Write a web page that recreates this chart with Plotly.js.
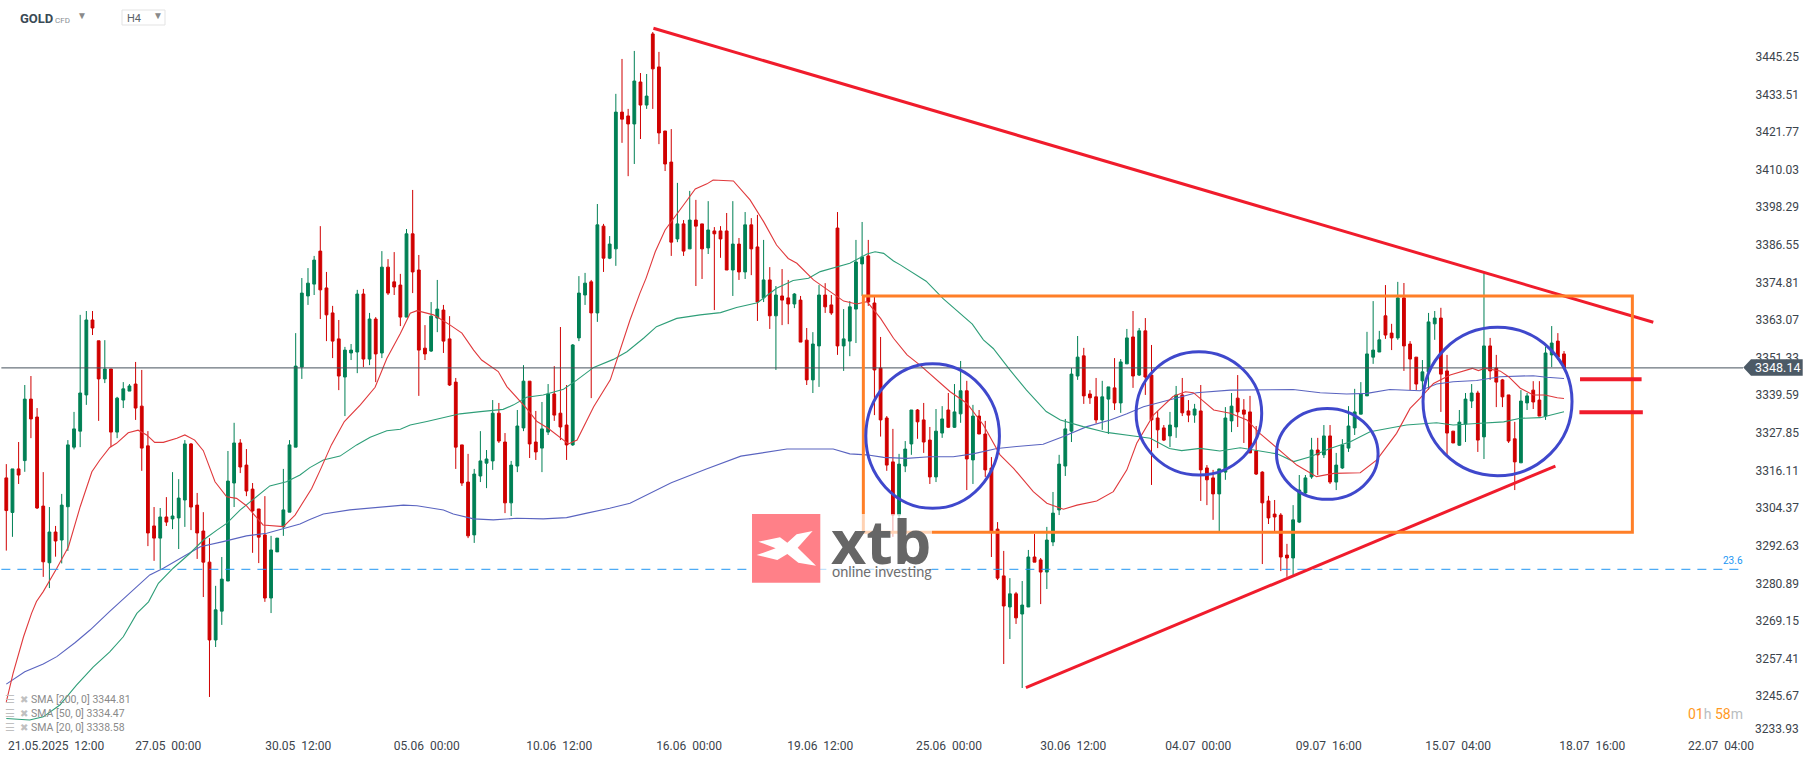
<!DOCTYPE html>
<html>
<head>
<meta charset="utf-8">
<script src="https://cdn.plot.ly/plotly-3.0.1.min.js"></script>
<style>html,body{margin:0;padding:0;background:#fff}#chart{width:1815px;height:759px}</style>
</head>
<body>
<div id="chart"></div>
<script>
const open = [
3313.8,3303.0,3316.6,3319.2,3338.4,3332.8,3305,3287.3,3296.9,3294.4,
3304.8,3323.4,3328.4,3339.7,3363.1,3356.6,3344.7,3347.8,3328.1,3338.1,
3340.9,3343.1,3336.2,3323.8,3298.8,3295,3301.6,3301,3301.3,3306.9,
3324.4,3305.3,3297.2,3287.5,3263.2,3272.2,3281.6,3312.2,3324.7,3317.8,
3310.3,3304.1,3296,3276.3,3290.7,3298.5,3303.1,3323.4,3348.4,3370.6,
3374.3,3384.6,3373.1,3365.3,3357.2,3345.3,3352.8,3353.1,3371.2,3350.9,
3363.4,3352.8,3379.6,3375,3374,3364,3390,3378.7,3354.3,3353.4,
3363.7,3366.2,3357.2,3343.7,3324.1,3312.5,3296,3314.4,3318.4,3319.1,
3334,3325,3306,3317.5,3329.4,3344,3325,3323.1,3328.1,3340,
3334,3330.3,3324.1,3357.5,3370.9,3375,3365.3,3392.4,3382.4,3385.3,
3428,3426.8,3424.3,3437.4,3430.2,3452.4,3442.1,3422.1,3412.4,3388.4,
3393.1,3385.3,3394.3,3393.1,3385.6,3390.9,3390.9,3390.9,3378.7,3386.8,
3378.1,3392.8,3385.9,3370,3375.6,3364.4,3370.6,3370,3368.1,3369.3,
3356.8,3344.4,3355,3370.9,3367.8,3391.8,3355,3356.5,3366.5,3380.6,
3383.1,3368.4,3348.1,3332.5,3318.8,3302.2,3317.5,3324.4,3335,3331.9,
3325.6,3314.1,3327.8,3335,3329.6,3333.8,3341,3319.4,3333.1,3327.5,
3316.9,3297.8,3283.2,3273.5,3277.6,3271.3,3273.5,3289.1,3288.2,3284.4,
3293.8,3303.8,3317.5,3328.4,3345.6,3351.9,3340,3339.1,3331.9,3338.4,
3341.9,3337.2,3349.4,3357.8,3345.9,3359.7,3345.9,3332.5,3329.4,3326.9,
3329.7,3339.7,3334.7,3333.4,3334.7,3316.9,3313.8,3308.8,3315.6,3331.6,
3338.7,3335,3334.4,3322.2,3315.6,3306.6,3302.5,3302.2,3289.7,3288.8,
3300,3309.1,3314.1,3322.5,3321,3326.9,3312.5,3316.9,3323.1,3329.4,
3333.7,3339.4,3351.5,3353.1,3364.4,3359,3357.5,3370,3355.6,3351.5,
3344.1,3346.9,3361.9,3363.7,3347.2,3328.4,3324,3330.6,3337.8,3340.3,
3326.6,3355,3348.1,3344.4,3339.7,3326,3318.5,3337.2,3341.2,3338.1,
3333.1,3352.2,3356.5,3352.5];
const high = [
3318.1,3316.6,3325,3342.8,3345.6,3335.6,3315.6,3304.7,3298.8,3308.8,
3325.6,3334.4,3364.7,3365.9,3365.9,3356.6,3356.8,3347.8,3339.1,3343.7,
3343.1,3350,3347.5,3328.4,3304.7,3304.4,3307.8,3315.6,3313.4,3325.6,
3324.7,3309.1,3303.1,3295,3280.1,3289.1,3322.2,3331,3325.9,3322.8,
3312.2,3304.1,3308.1,3295.7,3295,3316.6,3325.6,3359,3376.2,3379.3,
3383.1,3392.4,3378.1,3367.5,3363.1,3354.7,3355.6,3372.5,3372.8,3365.3,
3364,3384.6,3382.1,3384.3,3377.5,3391.5,3403.7,3383.4,3361.5,3368.7,
3375.6,3367.8,3364.3,3345,3324.1,3321.3,3316.6,3328.4,3322.5,3338.1,
3337.2,3327.8,3319.1,3335,3349,3344,3334.7,3337.5,3343.1,3348.7,
3360.9,3342.8,3355.6,3376.8,3377.8,3375.6,3399.3,3393.1,3389.3,3433.7,
3444.6,3429,3447.1,3440.2,3439.9,3453,3446.8,3422.1,3422.7,3405.9,
3394.3,3403.4,3400.6,3393.1,3400.2,3392.1,3392.4,3396.5,3400.2,3388.7,
3396.8,3394.9,3395.9,3388.1,3379.6,3373.7,3379,3375.6,3371.5,3370.6,
3360.6,3359.3,3374,3374.6,3370.9,3396.8,3366.5,3369,3388.1,3393.7,
3388.1,3370.6,3357.8,3333.1,3329.1,3321.3,3325.3,3335,3335.3,3337.2,
3329.7,3335.3,3336.2,3340.3,3343.1,3350.3,3344.1,3336.6,3335,3331.6,
3320.3,3300,3291,3282.5,3278.2,3281.6,3291.3,3296.3,3288.8,3298.5,
3309.4,3321,3332.2,3348.1,3358.1,3354.4,3341.2,3345,3344.1,3342.2,
3351.2,3350.9,3360.3,3365.9,3360.6,3363.7,3355.3,3334.7,3330.3,3334.4,
3342.5,3345,3338.1,3336.9,3342.8,3317.8,3316.3,3316.6,3335.9,3340.3,
3345.9,3338.4,3339.4,3330,3315.9,3308.2,3306.9,3302.8,3293.2,3305.3,
3314.7,3314.7,3326.3,3326.3,3330.3,3330.3,3321.6,3325.9,3336.2,3341.6,
3343.7,3359.4,3369,3359.7,3374,3361.9,3375,3374.65,3356.5,3351.5,
3350.6,3365.3,3365.9,3366.9,3352.2,3328.4,3335,3340.3,3343.1,3341,
3377.7,3357.5,3352.2,3344.7,3339.7,3331.3,3341.2,3340.3,3344,3344,
3354.8,3361.2,3359,3353.4];
const low = [
3291.1,3295.4,3311.9,3315.7,3326.2,3304.1,3282.9,3279.4,3289.2,3287.1,
3291,3322.7,3323.4,3336.6,3358.4,3331.6,3343.4,3323.4,3326.2,3335.6,
3340.9,3331.9,3316,3292.5,3287.9,3285.4,3298.8,3297.8,3291.6,3298.5,
3297.5,3288.5,3276.6,3245.4,3261,3267.9,3281.6,3304.7,3315.3,3308.1,
3290.4,3287.2,3275.1,3271.6,3290.7,3295.7,3303.1,3323.4,3344.7,3367.8,
3370.9,3363.4,3356.5,3351.2,3341.2,3333.1,3350.6,3346.5,3348.4,3349,
3343.7,3351.2,3370.9,3370.9,3361.2,3364,3371.5,3339.4,3350.6,3353.1,
3359.3,3352.8,3342.5,3316.6,3311.3,3295,3293.5,3312.5,3310.6,3316.3,
3324.7,3302.8,3301.9,3315.6,3328.4,3320,3319.4,3315.6,3327.2,3331.6,
3325.6,3319.4,3323.8,3356.5,3367.8,3338.7,3362.5,3378.1,3382.1,3380,
3418.4,3408,3411.8,3419.6,3429,3429,3418,3409.6,3383.1,3387.4,
3383.1,3385.3,3373.7,3375.9,3383.7,3366.2,3382.5,3378.7,3370.6,3375.6,
3375.9,3377.1,3362.8,3368.7,3360.3,3347.5,3361.5,3361.8,3366.8,3356.2,
3342.8,3340.3,3342.2,3365.3,3364.7,3352.2,3347.2,3351.8,3355.9,3370.6,
3367.5,3333.4,3326.7,3316,3295.4,3298.8,3315.6,3321,3326,3321.6,
3311.9,3312.5,3326.3,3329.4,3329.4,3331,3310,3311.9,3327.5,3314.1,
3289.1,3281.9,3255.7,3263.5,3268.2,3248.2,3273.5,3287.5,3274.4,3279.1,
3292.5,3302.2,3314.4,3325,3344.4,3336.9,3336.9,3330.8,3328.8,3327.5,
3335,3334.1,3349.4,3341.9,3345.6,3339.7,3311.6,3323.1,3325.3,3323.4,
3326.3,3333.1,3331.2,3331,3306.6,3305.3,3300.7,3297.2,3313.2,3328.1,
3329.7,3324.7,3321.6,3314.7,3286.9,3299.4,3297.2,3284.7,3282.9,3283.5,
3299.7,3308.5,3313.5,3314.7,3320,3311.9,3310,3316.6,3321.9,3327.2,
3333.7,3339.4,3349.4,3353.1,3357.2,3353.7,3356.9,3347.2,3341.2,3341.2,
3341.2,3341.3,3356.9,3334.4,3321,3324.7,3323.8,3325,3335.6,3321.9,
3319.7,3344.4,3335.9,3335.9,3324.7,3310,3318.5,3335,3335.3,3333.1,
3331.9,3348.4,3350.6,3348.14];
const close = [
3303.6,3316.6,3314.7,3338.4,3332.2,3304.4,3287.6,3296.9,3294.1,3305.3,
3324.1,3329.1,3340.3,3363.1,3360.6,3344.7,3347.8,3328.1,3338.7,3341.6,
3342.5,3335.6,3323.1,3296.6,3295,3301.6,3300,3301.9,3307.5,3324.4,
3304.7,3296.6,3287.5,3263.2,3272.6,3282.2,3312.8,3324.7,3317.2,3309.7,
3303.5,3295.3,3276.3,3291.3,3295,3303.8,3324.1,3348.7,3371.5,3374.6,
3381.8,3372.5,3364.7,3356.5,3345.6,3353.7,3353.7,3371.2,3350.9,3363.4,
3352.5,3379.6,3371.5,3373.4,3364,3390,3378.1,3353.7,3352.5,3364.3,
3366.5,3356.5,3342.8,3323.4,3312.2,3295.7,3315,3319.1,3319.7,3334,
3325.3,3306,3317.8,3330,3344,3324.4,3321.9,3329.1,3340,3333.4,
3329.7,3324.1,3355.3,3371.5,3374.6,3365.3,3392.8,3382.4,3386.8,3428,
3425.8,3424.3,3437.7,3430.2,3433,3441.5,3421.5,3411.8,3387.4,3393.1,
3384.6,3394.3,3392.4,3385.3,3391.2,3390,3388.4,3378.7,3386.8,3378.1,
3392.8,3385.3,3368.7,3375.6,3364.4,3370.9,3369.3,3368.1,3371.2,3356.2,
3344.4,3355.6,3370.9,3367.2,3365.3,3355,3357.2,3367.2,3381.2,3382.8,
3368.7,3347.5,3331.9,3317.8,3302.2,3318.1,3322.8,3335,3331.3,3325,
3314.1,3328.4,3332.2,3329.6,3334.4,3341,3319.7,3333.1,3327.5,3316.3,
3297.2,3282.5,3273.8,3277.6,3270.1,3274.1,3289.1,3287.5,3284.4,3294.4,
3302.8,3318.1,3329.1,3346.2,3351.5,3339.4,3338.8,3331.9,3339.1,3342.2,
3337.2,3350,3357.5,3345.6,3359.7,3345.3,3331.9,3328.8,3325.6,3330.3,
3339.7,3334.1,3333.4,3335.3,3316.3,3313.2,3308.8,3316.6,3332.5,3336.2,
3334.4,3333.7,3321.6,3315,3306,3301.3,3301.6,3289.1,3288.8,3300.7,
3310,3313.8,3322.5,3321,3326.9,3312.5,3317.8,3324.1,3330,3334.4,
3340,3352.5,3353.7,3356.9,3358.4,3357.5,3370,3355,3350.9,3343.1,
3346.9,3362.5,3363.7,3346.2,3327.8,3324.7,3331.2,3338.4,3340.3,3325.6,
3355,3347.2,3343.7,3339.1,3325.3,3318.8,3337.8,3339.4,3337.5,3333.1,
3352.8,3355.9,3351.5,3348.14];
const candleIndex = open.map((_, i) => i);

const sma20At = [0,1.1,2.8,4.1,4.9,6,8.2,10.1,12,13.9,15.2,16.8,17.9,19.8,21.4,22.8,24.1,25.5,27.7,29,30.6,32,33.9,35.8,37.4,39,41.7,45,46.9,48.2,49.6,51,52.8,54.9,57.5,59.9,61.8,64,65.6,66.7,69.4,72.1,74,75.9,77.2,79.9,81.3,84.5,86.2,88,90,91.3,92.7,95.4,98.1,99.7,101.3,102.9,103.9,105.4,107,110,111.9,113.8,114.8,118.1,120.8,123,125.1,127,128.4,131.1,134.3,136,138.1,139.8,142,144.1,146.3,148.4,153.3,156,158.7,161.4,163.6,166.8,169,171.7,173.9,177.1,179.8,182,183.6,185.2,186.3,189.5,191.5,192.8,196.1,198.8,201.5,203.6,206.4,209.6,212.8,215.6,219.9,222.6,225.8,228,229.6,231.8,234.5,238.1,239.1,240.2,242.6,244,245.9,248,249.9,251.9,253];
const sma20 = [3243.9,3252.8,3264.2,3271.5,3275.2,3278.3,3285.6,3292.3,3304.8,3315.7,3319.4,3323.3,3324.6,3327.9,3328.7,3327.2,3324.9,3324.9,3326.2,3327.2,3325.6,3322.3,3312.6,3307.9,3307.4,3305.1,3299.1,3298.6,3302.2,3306.4,3310.5,3316.3,3324.1,3331.4,3336.6,3342.1,3351.1,3358.9,3365.2,3366,3364.7,3361.5,3359,3353.7,3350.6,3347,3342.3,3335.5,3331.4,3329.3,3326.2,3324.4,3325.6,3336,3344.4,3353.7,3363.1,3371.4,3376.1,3384.4,3391.2,3399,3404,3405.6,3406.8,3406.5,3400.6,3393.8,3386.5,3382.3,3380.8,3375.6,3371.4,3369,3368.1,3368.8,3363.6,3357.4,3352.2,3349,3340.7,3337.1,3330.3,3321,3316.8,3309.5,3305.9,3304,3305.3,3306.6,3309.5,3316.3,3324.6,3329.8,3333.4,3339.2,3340.7,3340.4,3335,3334,3331.9,3327.7,3323,3317.8,3314.2,3315.2,3315.4,3319.4,3327.7,3335.5,3338.6,3343.3,3345.9,3348,3347.3,3348,3347.2,3345.4,3341.8,3339.7,3339.7,3338.8,3338.58];

const sma50At = [0,3.8,6,8.7,11.4,14.1,16.8,19,21.2,23.1,24.7,27.1,29.8,32,34.2,35.8,38,40.7,42.8,45.5,47.7,49.3,51.5,54.2,56.9,59.1,61.8,64,65.6,68.3,71,73.7,77,80.7,82.4,84.5,87.2,90.5,92.7,95.4,98.6,100.8,103.5,105.6,108.9,112.7,116,118.6,122,125.1,127.8,130.3,132.2,137,139.8,141.1,142.5,144.1,145.2,149.4,152.2,156.9,158.7,160.3,163,165.7,168.9,171.2,174.9,178.7,183.1,185.8,188.9,190.9,193.9,197.1,200.4,202.6,206.4,209.1,211.8,215,218.3,221.5,224.8,227.4,232.3,235,238.8,243.2,245.9,249.1,253];
const sma50 = [3238.7,3238.2,3239.2,3242.9,3249.1,3254.7,3259.5,3264.2,3271.5,3275.1,3280.9,3285.6,3290.2,3294.4,3297.5,3299.6,3303.8,3308,3311.3,3312.6,3314.7,3317,3319.4,3320.6,3324.1,3326.5,3328.5,3329,3330.3,3331.4,3332.6,3333.8,3334.5,3335.2,3336.6,3339,3339.7,3341.5,3344.4,3348.3,3350.8,3353.2,3357.4,3361,3363.6,3364.7,3365.4,3367,3368.5,3373,3375.4,3376.1,3378.2,3380.8,3383.7,3384.4,3383.9,3381.5,3380.3,3375.2,3369.7,3361.8,3356.9,3354.2,3347.5,3341.2,3334.5,3331.9,3329.8,3328,3326.9,3326.2,3323,3322.3,3323,3322.2,3323.2,3322.5,3321.3,3318.9,3320.4,3323,3325.1,3328.2,3329.3,3330.3,3331,3330.3,3330.8,3331.3,3332.4,3332.6,3334.47];

const sma200At = [0,3,6,8.2,11.2,13.6,16.8,20.6,23.3,25.5,28.2,31.5,35.2,39,42.3,45.5,47.7,49.3,51.5,55.8,60.7,64.5,66.7,71,72.6,75.9,79.1,82.9,87.2,91,94.3,98,101.3,108,113.7,119.3,126.8,134.3,137,139.7,142.5,146.2,150,153.8,157,160.9,164.1,168.4,171.7,175.5,179.3,182,184.7,189,193.3,198.8,204.2,209,213.4,217.7,221,224.7,229.6,232.3,235,238.8,242.6,248,250.2,253];
const sma200 = [3249.4,3253.3,3255.7,3258,3262.4,3266.3,3272.1,3278.8,3283.5,3285.6,3288.7,3292.3,3293.9,3295.7,3296.5,3298.1,3299.4,3300.8,3302.5,3303.8,3304.6,3305.3,3305.1,3303.8,3302.5,3301,3300.7,3301.2,3301,3301.4,3302.8,3304.3,3305.9,3312.3,3316.6,3320.6,3322.8,3322.8,3321.3,3321,3320.2,3319.9,3320.4,3320.4,3321.3,3323,3323.6,3324.3,3326.7,3329.8,3331.9,3333.8,3336,3338.1,3340.4,3341.2,3341.4,3341.4,3340.4,3340,3340.2,3341.4,3341,3343.1,3343.8,3344.2,3345.4,3345.7,3345.2,3344.81];

const priceTicks = [3445.25,3433.51,3421.77,3410.03,3398.29,3386.55,3374.81,3363.07,3351.33,3339.59,3327.85,3316.11,3304.37,3292.63,3280.89,3269.15,3257.41,3245.67];
const dateTickAt = [8.1,26.3,47.4,68.3,89.8,110.9,132.2,153.1,173.3,193.6,214.8,235.8,257.6,278.5];
const dateTickText = ['21.05.2025\u00a0\u00a012:00','27.05\u00a0\u00a000:00','30.05\u00a0\u00a012:00','05.06\u00a0\u00a000:00','10.06\u00a0\u00a012:00','16.06\u00a0\u00a000:00','19.06\u00a0\u00a012:00','25.06\u00a0\u00a000:00','30.06\u00a0\u00a012:00','04.07\u00a0\u00a000:00','09.07\u00a0\u00a016:00','15.07\u00a0\u00a004:00','18.07\u00a0\u00a016:00','22.07\u00a0\u00a004:00'];

const lastPrice = 3348.14;
const fibLevel = 3285.26;
const downTrend = {i:[105.1,267.5], p:[3454.2,3362.4]};
const upTrend = {i:[165.6,251.6], p:[3248.3,3317.5]};
const box = {i:[139.2,264.1], p:[3296.8,3370.6]};
const levelA = {i:[255.6,265.6], p:3344.6};
const levelB = {i:[255.5,265.8], p:3334.3};
const circles = [
  {i:[139.6,161.3], p:[3304.3,3349.4]},
  {i:[183.5,203.9], p:[3314.7,3353.2]},
  {i:[206.3,222.8], p:[3307.1,3335.5]},
  {i:[230.1,254.3], p:[3314.5,3360.8]}
];
const smaLegend = ['SMA [200,\u00a00]\u00a03344.81','SMA [50,\u00a00]\u00a03334.47','SMA [20,\u00a00]\u00a03338.58'];

const W = 1743, H = 730;
const px = X => X / W, py = Y => 1 - Y / H;
const GREEN = '#008055', RED = '#d00000', DRAW_RED = '#f01c2c', ORANGE = '#ff7f27', BLUE = '#3f48cc', FONT = 'Roboto, sans-serif', TXT = '#3b444c';

const traces = [
  {type:'scatter',mode:'lines',x:sma200At,y:sma200,line:{color:'#5a64c0',width:1.1},hoverinfo:'skip'},
  {type:'scatter',mode:'lines',x:sma50At,y:sma50,line:{color:'#2e9e78',width:1.1},hoverinfo:'skip'},
  {type:'candlestick',x:candleIndex,open:open,high:high,low:low,close:close,
   increasing:{line:{color:GREEN,width:1},fillcolor:GREEN},
   decreasing:{line:{color:RED,width:1},fillcolor:RED},
   whiskerwidth:0,hoverinfo:'skip'},
  {type:'scatter',mode:'lines',x:sma20At,y:sma20,line:{color:'#e0393c',width:1.1},hoverinfo:'skip'}
];

const lineShape = (s, color, width, extra) => Object.assign({type:'line',xref:'x',yref:'y',x0:s.i[0],x1:s.i[1],y0:Array.isArray(s.p)?s.p[0]:s.p,y1:Array.isArray(s.p)?s.p[1]:s.p,line:{color:color,width:width}},extra||{});
const logoMark = [[85,125],[150,112],[172,128],[200,103],[248,93],[203,143],[258,197],[205,188],[172,162],[142,180],[80,165],[137,145]];
const logoPath = 'M' + logoMark.map(([a,b]) => px(730+a/3) + ',' + py(500+b/3)).join('L') + 'Z';
const tagPath = 'M' + [[1743.3,367.5],[1751,359.3],[1802.7,359.3],[1802.7,375.7],[1751,375.7]].map(([a,b]) => px(a) + ',' + py(b)).join('L') + 'Z';

const shapes = [
  {type:'line',xref:'x',yref:'y',x0:-0.8,x1:282.07,y0:lastPrice,y1:lastPrice,line:{color:'#46525c',width:1}},
  {type:'line',xref:'x',yref:'y',x0:-0.8,x1:282.07,y0:fibLevel,y1:fibLevel,line:{color:'#2196f3',width:1,dash:'9px,7px'}},
  lineShape(downTrend, DRAW_RED, 3),
  lineShape(upTrend, DRAW_RED, 3),
  {type:'rect',xref:'x',yref:'y',x0:box.i[0],x1:box.i[1],y0:box.p[0],y1:box.p[1],line:{color:ORANGE,width:3}},
  lineShape(levelA, DRAW_RED, 4),
  lineShape(levelB, DRAW_RED, 4),
  ...circles.map(c => ({type:'circle',xref:'x',yref:'y',x0:c.i[0],x1:c.i[1],y0:c.p[0],y1:c.p[1],line:{color:BLUE,width:3}})),
  {type:'rect',xref:'paper',yref:'paper',x0:px(752),x1:px(932),y0:py(582.7),y1:py(514),line:{width:0},fillcolor:'rgba(255,255,255,0.65)'},
  {type:'rect',xref:'paper',yref:'paper',x0:px(752),x1:px(820.3),y0:py(582.7),y1:py(514),line:{width:0},fillcolor:'#ff8088'},
  {type:'path',xref:'paper',yref:'paper',path:logoPath,line:{width:0},fillcolor:'#ffffff'},
  {type:'rect',xref:'paper',yref:'paper',x0:px(122),x1:px(165),y0:py(25),y1:py(10),line:{color:'#e3e3e3',width:1},fillcolor:'#fff'},
  {type:'path',xref:'paper',yref:'paper',path:tagPath,line:{width:0},fillcolor:'#4c5a66'}
];

const note = (X, Y, text, size, color, anchor, extra) => Object.assign({xref:'paper',yref:'paper',x:px(X),y:py(Y),text:text,showarrow:false,xanchor:anchor||'left',yanchor:'middle',font:{family:FONT,size:size,color:color},borderpad:0,borderwidth:0},extra||{});

const annotations = [
  note(20,19,'<b>GOLD</b>',13,'#3a4a55'),
  note(55,20,'CFD',8,'#8a8f94'),
  note(77,15.5,'\u25BC',10,'#8a8a8a'),
  note(127,19,'H4',11,'#5a6268'),
  note(153,15.5,'\u25BC',10,'#8a8a8a'),
  note(1755,729,'3233.93',12,TXT),
  note(1755,367.6,'3348.14',12.5,'#ffffff'),
  note(1733,560,'23.6',10,'#2196f3','center'),
  note(1688,714,'<span style="color:#ff9a1f">01</span><span style="color:#b9bdc0">h</span>\u00a0<span style="color:#ff9a1f">58</span><span style="color:#b9bdc0">m</span>',14,'#ff9a1f'),
  note(831,540,'<b>xtb</b>',61,'#666666','left',{font:{family:'"Open Sans", sans-serif',size:61,color:'#666666'}}),
  note(832,571,'online investing',14.5,'#6f6f6f','left',{font:{family:'Lato, sans-serif',size:14.5,color:'#6f6f6f'}}),
  ...smaLegend.flatMap((t, k) => {
    const Y = 699 + k * 14;
    return [note(5,Y,'\u2630',11,'#c0c0c0'), note(20,Y,'\u2716',10,'#c0c0c0'), note(31,Y,t,10.5,'#8a8a8a')];
  })
];

const layout = {
  width:1815,height:759,showlegend:false,paper_bgcolor:'#ffffff',plot_bgcolor:'#ffffff',
  margin:{l:0,r:72,t:0,b:29,pad:0},
  boxgap:0.35,
  dragmode:false,hovermode:false,
  xaxis:{type:'linear',range:[-1.023,282.07],rangeslider:{visible:false},showgrid:false,zeroline:false,showline:false,ticks:'outside',ticklen:5,tickcolor:'rgba(0,0,0,0)',
    tickmode:'array',tickvals:dateTickAt,ticktext:dateTickText,tickangle:0,tickfont:{family:FONT,size:12,color:TXT},automargin:false},
  yaxis:{type:'linear',side:'right',range:[3235.09,3463.0],showgrid:false,zeroline:false,showline:false,ticks:'outside',ticklen:9,tickcolor:'rgba(0,0,0,0)',
    tickmode:'array',tickvals:priceTicks,tickformat:'.2f',tickfont:{family:FONT,size:12,color:TXT},automargin:false},
  shapes:shapes,annotations:annotations
};

Plotly.newPlot('chart', traces, layout, {staticPlot:true,displayModeBar:false});
</script>
</body>
</html>
